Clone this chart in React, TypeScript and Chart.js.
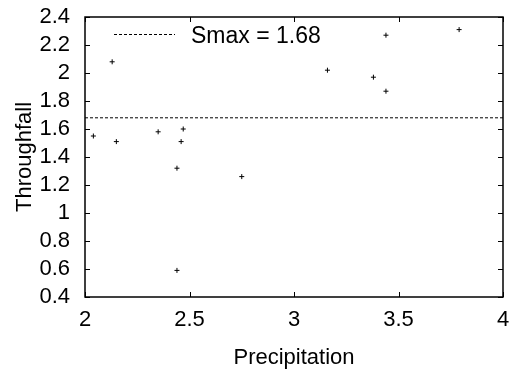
import React, { useEffect, useRef } from 'react';
import { Chart, registerables } from 'chart.js';

Chart.register(...registerables);

// ---- data ----
const precipitation = [2.04, 2.13, 2.15, 2.35, 2.47, 2.46, 2.44, 2.75, 2.44, 3.44, 3.79, 3.16, 3.38, 3.44];
const throughfall = [1.55, 2.08, 1.51, 1.58, 1.6, 1.51, 1.32, 1.26, 0.59, 2.27, 2.31, 2.02, 1.97, 1.87];
const smaxValue = 1.68;
const smaxLabel = 'Smax = 1.68';
const xMin = 2;
const xMax = 4;
const xStep = 0.5;
const yMin = 0.4;
const yMax = 2.4;
const yStep = 0.2;
const xTitle = 'Precipitation';
const yTitle = 'Throughfall';

const FONT = '"Liberation Sans", Arial, Helvetica, sans-serif';

const fmt = (v: number) => String(Math.round(Number(v) * 100) / 100);

const framePlugin = {
  id: 'frameTicks',
  afterDatasetsDraw(chart: any) {
    const { ctx, chartArea: a, scales } = chart;
    const tl = 5;
    ctx.save();
    ctx.strokeStyle = '#000';
    ctx.lineWidth = 1;
    ctx.setLineDash([]);
    ctx.beginPath();
    scales.x.ticks.forEach((t: any) => {
      const px = Math.round(scales.x.getPixelForValue(t.value)) + 0.5;
      ctx.moveTo(px, a.bottom);
      ctx.lineTo(px, a.bottom - tl);
      ctx.moveTo(px, a.top);
      ctx.lineTo(px, a.top + tl);
    });
    scales.y.ticks.forEach((t: any) => {
      const py = Math.round(scales.y.getPixelForValue(t.value)) + 0.5;
      ctx.moveTo(a.left, py);
      ctx.lineTo(a.left + tl, py);
      ctx.moveTo(a.right, py);
      ctx.lineTo(a.right - tl, py);
    });
    ctx.stroke();
    ctx.lineWidth = 1.5;
    ctx.strokeRect(a.left, a.top, a.right - a.left, a.bottom - a.top);
    ctx.restore();
  },
};

const legendPlugin = {
  id: 'innerLegend',
  afterDraw(chart: any) {
    const { ctx, chartArea: a } = chart;
    const ds = chart.data.datasets[1];
    ctx.save();
    const ly = Math.round(a.top + 17) + 0.5;
    ctx.strokeStyle = '#000';
    ctx.lineWidth = 1;
    ctx.setLineDash([3, 2]);
    ctx.beginPath();
    ctx.moveTo(a.left + 29, ly);
    ctx.lineTo(a.left + 90, ly);
    ctx.stroke();
    ctx.setLineDash([]);
    ctx.fillStyle = '#000';
    ctx.font = `23px ${FONT}`;
    ctx.textBaseline = 'alphabetic';
    ctx.textAlign = 'left';
    ctx.fillText(ds.label, a.left + 106, a.top + 26);
    ctx.restore();
  },
};

export default function App() {
  const ref = useRef<HTMLCanvasElement | null>(null);

  useEffect(() => {
    if (!ref.current) return;
    const chart = new Chart(ref.current, {
      type: 'scatter',
      data: {
        datasets: [
          {
            label: 'Throughfall',
            data: precipitation.map((x, i) => ({ x, y: throughfall[i] })),
            pointStyle: 'cross',
            pointRadius: 2.5,
            pointHoverRadius: 2.5,
            borderWidth: 1,
            borderColor: '#000',
            backgroundColor: '#000',
          },
          {
            type: 'line',
            label: smaxLabel,
            data: [
              { x: xMin, y: smaxValue },
              { x: xMax, y: smaxValue },
            ],
            borderColor: '#000',
            borderWidth: 1,
            borderDash: [3, 2],
            pointRadius: 0,
            fill: false,
          } as any,
        ],
      },
      options: {
        responsive: false,
        animation: false,
        events: [],
        layout: { padding: { top: 17, right: 7, left: 0, bottom: 0 } },
        plugins: {
          legend: { display: false },
          tooltip: { enabled: false },
        },
        scales: {
          x: {
            type: 'linear',
            min: xMin,
            max: xMax,
            grid: { display: false, drawTicks: false },
            border: { display: false },
            ticks: {
              stepSize: xStep,
              autoSkip: false,
              color: '#000',
              font: { family: FONT, size: 22 },
              padding: 10,
              maxRotation: 0,
              callback: (v: any) => fmt(v),
            },
            title: {
              display: true,
              text: xTitle,
              color: '#000',
              font: { family: FONT, size: 22 },
              padding: { top: 0, bottom: 2 },
            },
            afterFit: (s: any) => {
              s.height = 76;
              s.paddingLeft = 0;
              s.paddingRight = 0;
            },
          },
          y: {
            type: 'linear',
            min: yMin,
            max: yMax,
            grid: { display: false, drawTicks: false },
            border: { display: false },
            ticks: {
              stepSize: yStep,
              autoSkip: false,
              color: '#000',
              font: { family: FONT, size: 22 },
              padding: 15,
              callback: (v: any) => fmt(v),
            },
            title: {
              display: true,
              text: yTitle,
              color: '#000',
              font: { family: FONT, size: 22 },
              padding: { top: 12, bottom: 0 },
            },
            afterFit: (s: any) => {
              s.width = 85;
              s.paddingTop = 0;
              s.paddingBottom = 0;
            },
          },
        },
      },
      plugins: [framePlugin, legendPlugin],
    });
    return () => chart.destroy();
  }, []);

  return (
    <div style={{ position: 'absolute', left: 0, top: 0, width: 510, height: 373, background: '#fff' }}>
      <canvas ref={ref} width={510} height={373} style={{ display: 'block' }} />
    </div>
  );
}
